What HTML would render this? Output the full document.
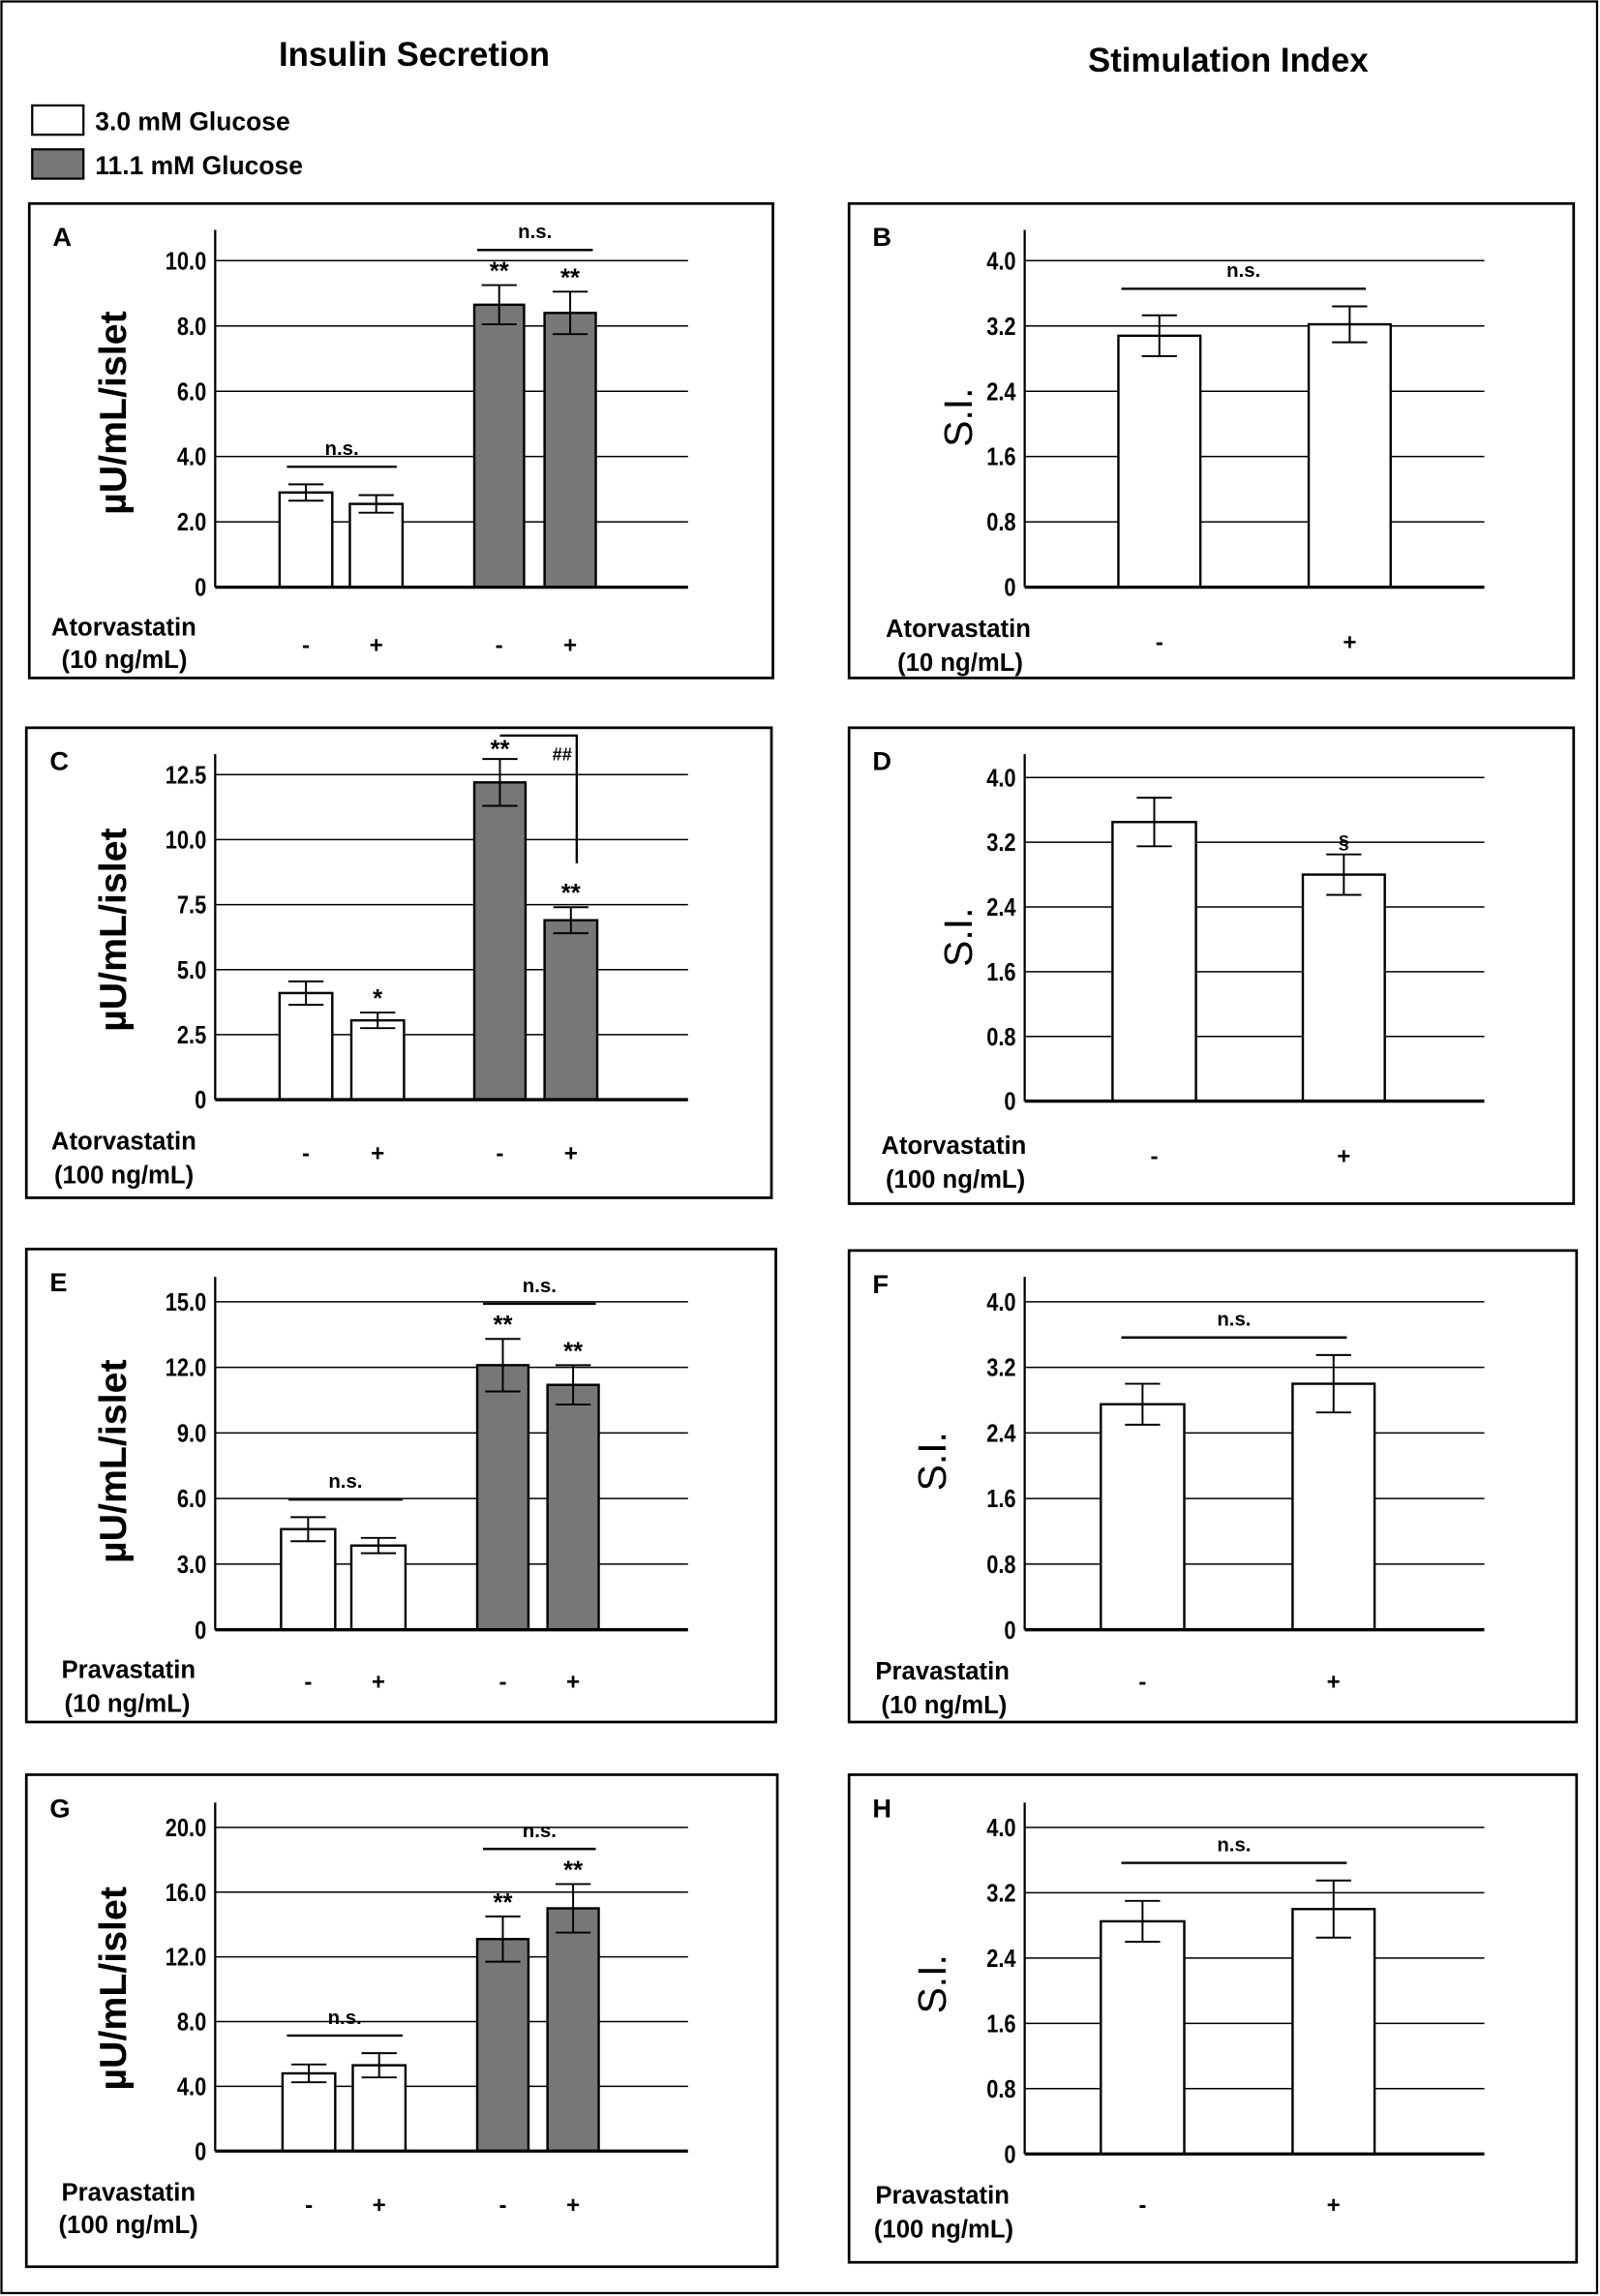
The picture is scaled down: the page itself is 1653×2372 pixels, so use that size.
<!DOCTYPE html>
<html><head><meta charset="utf-8"><style>
html,body{margin:0;padding:0;background:#fff;}
svg{display:block;}
text{font-family:"Liberation Sans",sans-serif;}
</style></head><body>
<svg id="fig" width="1653" height="2372" viewBox="0 0 1093 1568" preserveAspectRatio="none" xmlns="http://www.w3.org/2000/svg">
<rect x="1" y="1" width="1090" height="1565" fill="#fff" stroke="#000" stroke-width="1.5"/>
<text x="283" y="45" font-size="23" font-weight="bold" text-anchor="middle">Insulin Secretion</text>
<text x="839" y="49" font-size="23" font-weight="bold" text-anchor="middle">Stimulation Index</text>
<rect x="22" y="72" width="35" height="20" fill="#fff" stroke="#000" stroke-width="1.5"/>
<text x="65" y="89" font-size="17.5" font-weight="bold">3.0 mM Glucose</text>
<rect x="22" y="102" width="35" height="20" fill="#777" stroke="#000" stroke-width="1.5"/>
<text x="65" y="119" font-size="17.5" font-weight="bold">11.1 mM Glucose</text>
<g id="panels"></g>
</svg>
<script>
// ---- data ----
const aVals=[2.9,2.55,8.65,8.4];   const aErr=[0.25,0.27,0.6,0.65];
const aTicks=[0,2,4,6,8,10];       const aTickLabels=["0","2.0","4.0","6.0","8.0","10.0"];
const bVals=[3.08,3.22];           const bErr=[0.25,0.22];
const siTicks=[0,0.8,1.6,2.4,3.2,4.0]; const siTickLabels=["0","0.8","1.6","2.4","3.2","4.0"];
const cVals=[4.1,3.05,12.2,6.9];   const cErr=[0.45,0.3,0.9,0.5];
const cTicks=[0,2.5,5,7.5,10,12.5]; const cTickLabels=["0","2.5","5.0","7.5","10.0","12.5"];
const dVals=[3.45,2.8];            const dErr=[0.3,0.25];
const eVals=[4.6,3.85,12.1,11.2];  const eErr=[0.55,0.35,1.2,0.9];
const eTicks=[0,3,6,9,12,15];      const eTickLabels=["0","3.0","6.0","9.0","12.0","15.0"];
const fVals=[2.75,3.0];            const fErr=[0.25,0.35];
const gVals=[4.8,5.3,13.1,15.0];   const gErr=[0.55,0.75,1.4,1.5];
const gTicks=[0,4,8,12,16,20];     const gTickLabels=["0","4.0","8.0","12.0","16.0","20.0"];
const hVals=[2.85,3.0];            const hErr=[0.25,0.35];
const fourFills=["#fff","#fff","#777","#777"];
const fourMarks=["","","**","**"];

const NS="http://www.w3.org/2000/svg";
const root=document.getElementById('panels');
function mk(tag,attrs,parent){const e=document.createElementNS(NS,tag);for(const k in attrs)e.setAttribute(k,attrs[k]);(parent||root).appendChild(e);return e;}

const panels=[
 {id:'a',letter:'A',box:[20,139,508,324],ax:147,top:157,base:401,right:470,ticks:aTicks,tl:aTickLabels,max:aTicks[5],tmaxY:178,
  vals:aVals,err:aErr,fills:fourFills,marks:fourMarks,bx:[[191,227],[239,275],[324,358],[372,407]],cap:12,
  ytitle:'\u00b5U/mL/islet',ytx:86,yty:282,drug:'Atorvastatin',conc:'(10 ng/mL)',lx:35,ly:428,cx:42,cy:450,pmy:440,
  ns:[[196,271,'low'],[326,405,'high']]},
 {id:'b',letter:'B',box:[580,139,495,324],ax:700,top:157,base:401,right:1014,ticks:siTicks,tl:siTickLabels,max:4,tmaxY:178,
  vals:bVals,err:bErr,fills:["#fff","#fff"],marks:["",""],bx:[[764,820],[894,950]],cap:12,
  ytitle:'S.I.',ytx:664,yty:285,si:true,drug:'Atorvastatin',conc:'(10 ng/mL)',lx:605,ly:429,cx:613,cy:452,pmy:438,
  nsfixed:[766,933,202]},
 {id:'c',letter:'C',box:[18,497,509,321],ax:147,top:515,base:751,right:470,ticks:cTicks,tl:cTickLabels,max:12.5,tmaxY:529,
  vals:cVals,err:cErr,fills:fourFills,marks:["","*","**","**"],bx:[[191,227],[240,276],[324,359],[372,408]],cap:12,
  ytitle:'\u00b5U/mL/islet',ytx:86,yty:635,drug:'Atorvastatin',conc:'(100 ng/mL)',lx:35,ly:779,cx:37,cy:802,pmy:787,hash:true},
 {id:'d',letter:'D',box:[580,497,495,325],ax:700,top:515,base:752,right:1014,ticks:siTicks,tl:siTickLabels,max:4,tmaxY:531,
  vals:dVals,err:dErr,fills:["#fff","#fff"],marks:["","\u00a7"],bx:[[760,817],[890,946]],cap:12,
  ytitle:'S.I.',ytx:664,yty:640,si:true,drug:'Atorvastatin',conc:'(100 ng/mL)',lx:602,ly:782,cx:605,cy:805,pmy:789},
 {id:'e',letter:'E',box:[18,853,512,323],ax:147,top:872,base:1113,right:470,ticks:eTicks,tl:eTickLabels,max:15,tmaxY:889,
  vals:eVals,err:eErr,fills:fourFills,marks:fourMarks,bx:[[192,229],[240,277],[326,361],[374,409]],cap:12,
  ytitle:'\u00b5U/mL/islet',ytx:86,yty:998,drug:'Pravastatin',conc:'(10 ng/mL)',lx:42,ly:1140,cx:44,cy:1163,pmy:1148,
  ns:[[197,275,'low'],[330,407,'high']]},
 {id:'f',letter:'F',box:[580,854,497,322],ax:700,top:872,base:1113,right:1014,ticks:siTicks,tl:siTickLabels,max:4,tmaxY:889,
  vals:fVals,err:fErr,fills:["#fff","#fff"],marks:["",""],bx:[[752,809],[883,939]],cap:12,
  ytitle:'S.I.',ytx:646,yty:998,si:true,drug:'Pravastatin',conc:'(10 ng/mL)',lx:598,ly:1141,cx:602,cy:1164,pmy:1148,
  nsfixed:[766,920,915]},
 {id:'g',letter:'G',box:[18,1212,513,336],ax:147,top:1231,base:1469,right:470,ticks:gTicks,tl:gTickLabels,max:20,tmaxY:1248,
  vals:gVals,err:gErr,fills:fourFills,marks:fourMarks,bx:[[193,229],[241,277],[326,361],[374,409]],cap:12,
  ytitle:'\u00b5U/mL/islet',ytx:86,yty:1358,drug:'Pravastatin',conc:'(100 ng/mL)',lx:42,ly:1497,cx:40,cy:1519,pmy:1505,
  ns:[[196,275,'low'],[330,407,'high']]},
 {id:'h',letter:'H',box:[580,1212,497,333],ax:700,top:1231,base:1471,right:1014,ticks:siTicks,tl:siTickLabels,max:4,tmaxY:1248,
  vals:hVals,err:hErr,fills:["#fff","#fff"],marks:["",""],bx:[[752,809],[883,939]],cap:12,
  ytitle:'S.I.',ytx:646,yty:1355,si:true,drug:'Pravastatin',conc:'(100 ng/mL)',lx:598,ly:1499,cx:597,cy:1522,pmy:1505,
  nsfixed:[766,920,1271]}
];

panels.forEach(p=>{
  const g=mk('g',{});
  
  
  const y=v=>p.base-(v/p.max)*(p.base-p.tmaxY);
  const box=mk('rect',{x:p.box[0],y:p.box[1],width:p.box[2],height:p.box[3],fill:'#fff',stroke:'#000','stroke-width':1.8},g);
  
  
  const lt=mk('text',{x:p.box[0]+16,y:p.box[1]+29,'font-size':18,'font-weight':'bold'},g);lt.textContent=p.letter;
  
  
  p.ticks.forEach((t,i)=>{
    const yy=y(t);
    if(t>0){const gl=mk('line',{x1:p.ax,x2:p.right,y1:yy,y2:yy,stroke:'#000','stroke-width':1},g);
      
      }
    const tt=mk('text',{x:p.ax-6,y:yy+6,'font-size':17,'font-weight':'bold','text-anchor':'end',transform:`translate(${p.ax-6},0) scale(0.85,1) translate(${-(p.ax-6)},0)`},g);
    tt.textContent=p.tl[i];
    
    
  });
  const ya=mk('line',{x1:p.ax,x2:p.ax,y1:p.top,y2:p.base,stroke:'#000','stroke-width':1.5},g);
  
  
  p.vals.forEach((v,i)=>{
    const [x0,x1]=p.bx[i];const cx=(x0+x1)/2;
    const r=mk('rect',{x:x0,y:y(v),width:x1-x0,height:p.base-y(v),fill:p.fills[i],stroke:'#000','stroke-width':1.6},g);
    
    
    const e=p.err[i];
    const ep=mk('path',{d:`M${cx},${y(v+e)}V${y(v-e)}M${cx-p.cap},${y(v+e)}H${cx+p.cap}M${cx-p.cap},${y(v-e)}H${cx+p.cap}`,stroke:'#000','stroke-width':1.3,fill:'none'},g);
    
    
    if(p.marks[i]){const m=mk('text',{x:cx,y:y(v+e)-(p.hash&&i==2?1:4),'font-size':p.marks[i]=='\u00a7'?13:17,'font-weight':'bold','text-anchor':'middle'},g);
      m.textContent=p.marks[i];
      
      }
    const pm=mk('text',{x:cx,y:p.pmy+6,'font-size':16,'font-weight':'bold','text-anchor':'middle'},g);
    pm.textContent=(p.vals.length==4?(i%2?'+':'-'):(i?'+':'-'));
    
    
  });
  const bl=mk('line',{x1:p.ax,x2:p.right,y1:p.base,y2:p.base,stroke:'#000','stroke-width':2.2},g);
  
  
  function nsLine(x0,x1,yy){
    const l=mk('line',{x1:x0,x2:x1,y1:yy,y2:yy,stroke:'#000','stroke-width':1.6},g);
    
    
    const t=mk('text',{x:(x0+x1)/2,y:yy-8,'font-size':13.5,'font-weight':'bold','text-anchor':'middle'},g);t.textContent='n.s.';
    
    
  }
  if(p.ns){p.ns.forEach(n=>{
    let yy;
    if(n[2]=='low') yy=y(Math.max(p.vals[0]+p.err[0],p.vals[1]+p.err[1]))-12;
    else yy=y(Math.max(p.vals[2]+p.err[2],p.vals[3]+p.err[3]))-24;
    nsLine(n[0],n[1],yy);
  });}
  if(p.nsfixed){nsLine(p.nsfixed[0],p.nsfixed[1],y(Math.max(p.vals[0]+p.err[0],p.vals[1]+p.err[1]))-12);}
  if(p.hash){
    const c2=(p.bx[2][0]+p.bx[2][1])/2,c3=(p.bx[3][0]+p.bx[3][1])/2+4;
    const top=y(p.vals[2]+p.err[2])-16;
    const hp=mk('path',{d:`M${c2},${top}H${c3}V${y(p.vals[3]+p.err[3])-30}`,stroke:'#000','stroke-width':1.6,fill:'none'},g);
    
    
    const ht=mk('text',{x:c3-10,y:top+17,'font-size':12,'font-weight':'bold','text-anchor':'middle'},g);ht.textContent='##';
    
    
  }
  const yt=mk('text',{x:p.ytx,y:p.yty,'font-size':p.si?27:26,'font-weight':p.si?'normal':'bold','text-anchor':'middle',transform:`rotate(-90 ${p.ytx} ${p.yty})`},g);
  yt.textContent=p.ytitle;
  
  
  const d=mk('text',{x:p.lx,y:p.ly+6,'font-size':17,'font-weight':'bold'},g);d.textContent=p.drug;
  
  
  const c=mk('text',{x:p.cx,y:p.cy+6,'font-size':17,'font-weight':'bold'},g);c.textContent=p.conc;
  
  
});
</script>
</body></html>
